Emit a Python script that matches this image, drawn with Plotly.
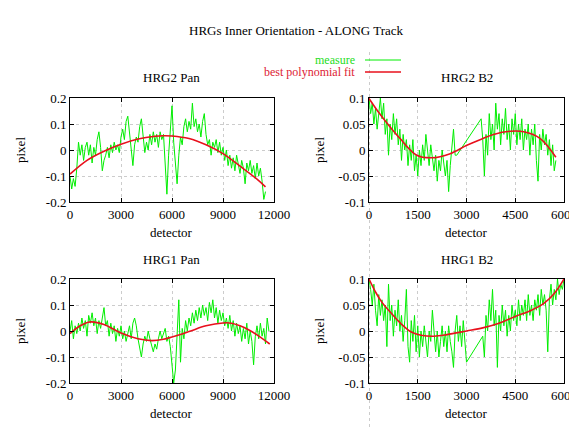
import numpy as np
import plotly.graph_objects as go

W, H = 577, 428
OFF = 8  # the page body adds an 8px margin around the figure
SERIF = "Liberation Serif, Times New Roman, serif"
GREEN = "#00ee00"
RED = "#e8101c"

# ---- HRG2 Pan ----
hrg2_pan_x = np.arange(0, 11600, 100)
hrg2_pan_y = [
    -0.10, -0.15, -0.11, -0.14, -0.07, 0.03, -0.02, 0.02, -0.04, 0.01,
    0.03, -0.02, 0.02, -0.05, 0.01, -0.02, 0.04, 0.07, 0.01, -0.08,
    -0.04, -0.02, 0.01, -0.03, 0.02, -0.01, 0.03, 0.00, 0.02, -0.01,
    0.05, 0.08, 0.04, 0.11, 0.13, 0.06, -0.02, -0.06, 0.02, 0.05,
    0.03, 0.09, 0.12, 0.04, -0.01, 0.03, 0.00, 0.06, 0.02, 0.07,
    0.03, 0.06, 0.01, 0.07, 0.04, 0.06, -0.05, -0.17, -0.02, 0.06,
    0.17, 0.03, -0.04, -0.13, -0.02, 0.05, 0.02, 0.09, 0.12, 0.07,
    0.11, 0.08, 0.18, 0.09, 0.12, 0.07, 0.10, 0.05, 0.11, 0.14,
    0.06, 0.02, 0.04, -0.02, 0.03, 0.01, 0.04, -0.01, 0.03, -0.02,
    0.01, -0.04, 0.00, -0.06, -0.02, -0.07, -0.03, -0.08, -0.02, -0.05,
    -0.09, -0.04, -0.07, -0.13, -0.05, -0.08, -0.04, -0.09, -0.06, -0.11,
    -0.05, -0.10, -0.07, -0.12, -0.19, -0.16,
]
hrg2_pan_fit_x = [0, 1000, 2000, 3000, 4000, 5000, 5500, 6000, 7000, 8000, 9000, 10000, 11000, 11500]
hrg2_pan_fit_y = [-0.093, -0.04, -0.005, 0.022, 0.042, 0.053, 0.055, 0.054, 0.044, 0.02, -0.014, -0.062, -0.112, -0.142]

# ---- HRG2 B2 ----
hrg2_b2_x = np.concatenate([np.arange(0, 2750, 50), np.arange(3450, 5800, 50)])
hrg2_b2_y = [
    0.10, 0.07, 0.09, 0.05, 0.08, 0.04, 0.07, 0.10, 0.06, 0.09,
    0.03, 0.06, -0.01, 0.05, 0.02, 0.07, 0.03, 0.06, 0.01, 0.04,
    -0.02, 0.03, 0.00, 0.02, -0.03, 0.01, -0.02, 0.02, -0.04, -0.01,
    -0.05, 0.00, -0.03, 0.01, -0.02, 0.03, 0.00, -0.03, 0.01, -0.02,
    -0.04, -0.01, -0.06, -0.02, -0.04, 0.00, -0.03, -0.05, -0.02, -0.08,
    -0.03, 0.00, 0.04, -0.01, -0.01,
    0.06, 0.02, -0.05, 0.03, -0.01, 0.07, 0.02, 0.05, 0.00, 0.09,
    0.04, 0.07, 0.01, 0.06, 0.03, 0.08, 0.02, 0.05, 0.00, 0.06,
    0.03, 0.07, 0.01, 0.05, 0.02, 0.06, 0.00, 0.04, 0.02, 0.05,
    -0.01, 0.04, 0.01, 0.05, -0.02, -0.06, 0.03, 0.00, 0.04, 0.01,
    0.03, -0.01, 0.02, -0.03, 0.01, -0.04, -0.02,
]
hrg2_b2_fit_x = [0, 300, 600, 955, 1470, 1930, 2500, 3010, 3500, 3830, 4350, 4760, 5270, 5750]
hrg2_b2_fit_y = [0.099, 0.072, 0.048, 0.022, -0.01, -0.015, -0.007, 0.009, 0.022, 0.03, 0.036, 0.035, 0.022, -0.014]

# ---- HRG1 Pan ----
hrg1_pan_x = np.arange(0, 11800, 100)
hrg1_pan_y = [
    0.00, 0.04, -0.03, 0.02, -0.01, 0.03, 0.00, 0.05, 0.01, 0.04,
    -0.02, 0.06, 0.03, 0.07, 0.02, 0.05, -0.01, 0.04, 0.01, 0.06,
    0.09, 0.02, 0.04, -0.02, 0.03, -0.01, 0.02, -0.04, 0.01, -0.02,
    0.02, -0.03, 0.00, -0.04, -0.01, 0.02, -0.03, 0.03, 0.05, 0.02,
    -0.03, -0.07, -0.10, -0.05, -0.02, -0.04, 0.00, -0.03, -0.06, -0.08,
    -0.05, -0.07, -0.03, 0.00, -0.03, -0.01, 0.01, -0.04, -0.02, -0.06,
    -0.12, -0.20, -0.15, -0.03, 0.12, -0.12, 0.01, -0.03, 0.04, 0.00,
    0.05, 0.02, 0.07, 0.03, 0.08, 0.04, 0.09, 0.05, 0.10, 0.06,
    0.09, 0.04, 0.11, 0.07, 0.12, 0.05, 0.09, 0.03, 0.08, 0.04,
    0.07, 0.02, 0.05, 0.01, 0.06, 0.00, 0.04, -0.02, 0.03, -0.01,
    0.02, -0.04, 0.01, -0.03, 0.03, -0.05, 0.00, -0.04, -0.13, -0.02,
    0.02, -0.03, 0.03, -0.02, 0.01, -0.05, 0.05, 0.00,
]
hrg1_pan_fit_x = [0, 600, 1200, 2000, 3000, 4000, 4800, 5500, 6000, 7000, 8000, 9000, 9500, 10000, 10500, 11000, 11750]
hrg1_pan_fit_y = [-0.01, 0.02, 0.035, 0.025, -0.008, -0.03, -0.037, -0.032, -0.023, -0.002, 0.02, 0.031, 0.03, 0.02, 0.005, -0.015, -0.05]

# ---- HRG1 B2 ----
hrg1_b2_x = np.concatenate([np.arange(0, 3050, 50), np.arange(3500, 6050, 50)])
hrg1_b2_y = [
    0.10, 0.08, 0.05, 0.09, 0.04, 0.01, 0.07, 0.03, 0.06, 0.02,
    0.05, -0.03, 0.09, 0.02, 0.05, -0.01, 0.04, 0.01, 0.06, 0.00,
    0.03, -0.02, 0.02, 0.08, -0.03, -0.06, 0.02, -0.02, 0.03, -0.04,
    0.01, -0.05, 0.00, -0.03, 0.01, -0.02, -0.05, 0.00, -0.02, 0.04,
    -0.01, -0.04, 0.00, -0.05, -0.02, 0.01, -0.03, 0.00, -0.04, 0.01,
    -0.02, -0.04, -0.07, 0.00, 0.03, -0.02, 0.01, -0.03, 0.02, -0.02,
    -0.06,
    -0.01, -0.05, 0.03, 0.00, 0.06, 0.02, 0.08, 0.01, 0.04, -0.07,
    0.03, 0.00, 0.05, 0.01, 0.04, -0.01, 0.03, 0.00, 0.05, 0.02,
    0.04, 0.01, 0.06, 0.02, 0.05, 0.03, 0.06, 0.02, 0.07, 0.03,
    0.05, 0.02, 0.06, 0.04, 0.07, 0.03, 0.08, 0.05, 0.07, 0.04,
    -0.04, 0.06, 0.09, 0.05, 0.08, 0.06, 0.10, 0.07, 0.09, 0.08,
    0.10,
]
hrg1_b2_fit_x = [0, 200, 400, 700, 1000, 1300, 1600, 2000, 2400, 3000, 3500, 4000, 4500, 5000, 5400, 5700, 6000]
hrg1_b2_fit_y = [0.1, 0.075, 0.055, 0.033, 0.013, -0.002, -0.008, -0.01, -0.007, 0.0, 0.006, 0.015, 0.028, 0.04, 0.054, 0.072, 0.1]

pan_ticks = [0, 3000, 6000, 9000, 12000]
b2_ticks = [0, 1500, 3000, 4500, 6000]
pan_yticks = [-0.2, -0.1, 0, 0.1, 0.2]
pan_ylabels = ["-0.2", "-0.1", "0", "0.1", "0.2"]
b2_yticks = [-0.1, -0.05, 0, 0.05, 0.1]
b2_ylabels = ["-0.1", "-0.05", "0", "0.05", "0.1"]

FW, FH = W - OFF, H - OFF  # figure size so it fits the window after the body margin


def px(x):
    # screen pixel -> paper fraction
    return (x - OFF) / FW


def py(y):
    return 1 - (y - OFF) / FH


def label(text, x, y, size=13, color="black", xanchor="center", angle=0):
    return dict(text=text, x=px(x), y=py(y), xref="paper", yref="paper",
                xanchor=xanchor, yanchor="middle", showarrow=False, textangle=angle,
                font=dict(family=SERIF, size=size, color=color))


panels = [
    # name, x, y, fitx, fity, axis suffix, xticks, yticks, ylabels, yrange
    ("HRG2 Pan", hrg2_pan_x, hrg2_pan_y, hrg2_pan_fit_x, hrg2_pan_fit_y, "", pan_ticks, pan_yticks, pan_ylabels, [-0.2, 0.2]),
    ("HRG2 B2", hrg2_b2_x, hrg2_b2_y, hrg2_b2_fit_x, hrg2_b2_fit_y, "2", b2_ticks, b2_yticks, b2_ylabels, [-0.1, 0.1]),
    ("HRG1 Pan", hrg1_pan_x, hrg1_pan_y, hrg1_pan_fit_x, hrg1_pan_fit_y, "3", pan_ticks, pan_yticks, pan_ylabels, [-0.2, 0.2]),
    ("HRG1 B2", hrg1_b2_x, hrg1_b2_y, hrg1_b2_fit_x, hrg1_b2_fit_y, "4", b2_ticks, b2_yticks, b2_ylabels, [-0.1, 0.1]),
]

# plot boxes in screen pixels: left, right, top, bottom
boxes = [(70, 274, 98, 202), (369, 564, 98, 202), (70, 274, 279, 383), (369, 564, 279, 383)]

fig = go.Figure()
layout = {}
annotations = []

for (name, x, y, fx, fy, sfx, xt, yt, yl, yr), (l, r, t, b) in zip(panels, boxes):
    fig.add_trace(go.Scatter(x=x, y=y, mode="lines", line=dict(color=GREEN, width=1),
                             xaxis="x" + sfx, yaxis="y" + sfx, showlegend=False))
    fig.add_trace(go.Scatter(x=fx, y=fy, mode="lines", line=dict(color=RED, width=1.6, shape="spline"),
                             xaxis="x" + sfx, yaxis="y" + sfx, showlegend=False))
    common = dict(showline=True, linecolor="black", linewidth=1, mirror="ticks",
                  ticks="inside", ticklen=4, tickcolor="black", automargin=False,
                  showgrid=True, gridcolor="#cccccc", griddash="dot", gridwidth=1,
                  zeroline=False, tickfont=dict(family=SERIF, size=13, color="black"))
    layout["xaxis" + sfx] = dict(common, domain=[px(l), px(r)], range=[xt[0], xt[-1]],
                                 tickvals=xt, ticktext=[str(v) for v in xt],
                                 anchor="y" + sfx)
    layout["yaxis" + sfx] = dict(common, domain=[py(b), py(t)], range=yr,
                                 tickvals=yt, ticktext=yl, anchor="x" + sfx)
    cx = (l + r) / 2
    annotations.append(label(name, cx, t - 20))
    annotations.append(label("detector", cx, b + 30))
    annotations.append(label("pixel", l - 50, (t + b) / 2, angle=-90))

annotations.append(label("HRGs Inner Orientation - ALONG Track", 296, 30))
annotations.append(label("measure", 357, 60, size=12, color="#22dd22", xanchor="right"))
annotations.append(label("best polynomial fit", 357, 72, size=12, color="#dd2233", xanchor="right"))

shapes = [
    dict(type="line", xref="paper", yref="paper", x0=px(365), x1=px(401), y0=py(60), y1=py(60),
         line=dict(color=GREEN, width=1)),
    dict(type="line", xref="paper", yref="paper", x0=px(365), x1=px(401), y0=py(72), y1=py(72),
         line=dict(color=RED, width=1.6)),
    dict(type="line", xref="paper", yref="paper", x0=px(369.5), x1=px(369.5), y0=py(52), y1=0,
         line=dict(color="#cccccc", width=1, dash="dot"), layer="below"),
]

fig.update_layout(
    **layout,
    template="none",
    width=FW, height=FH,
    margin=dict(l=0, r=0, t=0, b=0, autoexpand=False),
    paper_bgcolor="white", plot_bgcolor="white",
    annotations=annotations, shapes=shapes,
    showlegend=False,
)

fig.write_html("out.html")
